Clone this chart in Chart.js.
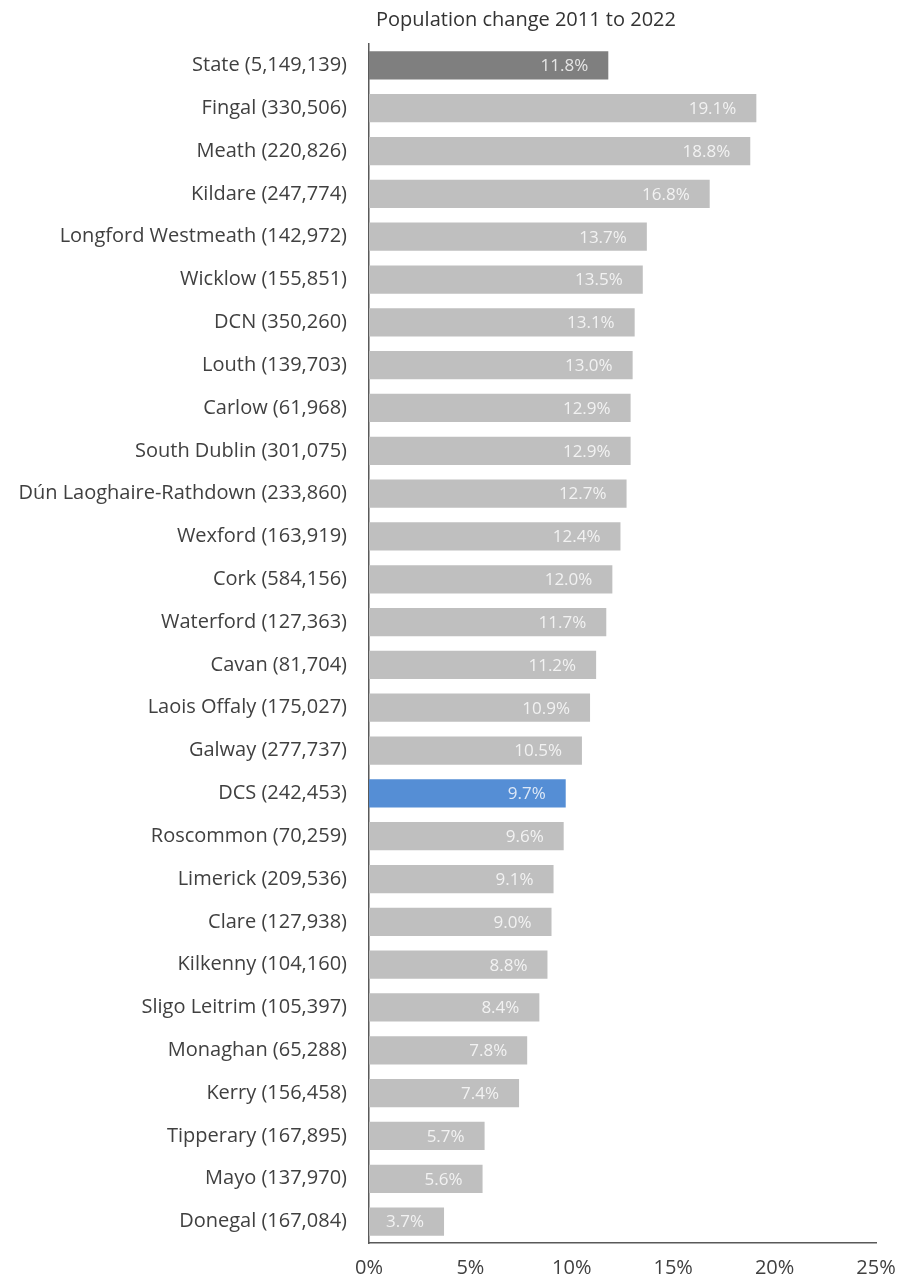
<!DOCTYPE html>
<html>
<head>
<meta charset="utf-8">
<script src="https://cdn.jsdelivr.net/npm/chart.js@4"></script>
<style>
  html, body { margin: 0; padding: 0; background: #fff; }
  #wrap { width: 899px; height: 1283px; position: relative; }
</style>
</head>
<body>
<div id="wrap"><canvas id="popChart"></canvas></div>
<script>
// areas with 2022 population, and % change 2011 to 2022
const areas = [
  "State (5,149,139)", "Fingal (330,506)", "Meath (220,826)", "Kildare (247,774)",
  "Longford Westmeath (142,972)", "Wicklow (155,851)", "DCN (350,260)", "Louth (139,703)",
  "Carlow (61,968)", "South Dublin (301,075)", "Dún Laoghaire-Rathdown (233,860)",
  "Wexford (163,919)", "Cork (584,156)", "Waterford (127,363)", "Cavan (81,704)",
  "Laois Offaly (175,027)", "Galway (277,737)", "DCS (242,453)", "Roscommon (70,259)",
  "Limerick (209,536)", "Clare (127,938)", "Kilkenny (104,160)", "Sligo Leitrim (105,397)",
  "Monaghan (65,288)", "Kerry (156,458)", "Tipperary (167,895)", "Mayo (137,970)",
  "Donegal (167,084)"
];
const change = [
  11.8, 19.1, 18.8, 16.8, 13.7, 13.5, 13.1, 13.0, 12.9, 12.9, 12.7, 12.4, 12.0, 11.7,
  11.2, 10.9, 10.5, 9.7, 9.6, 9.1, 9.0, 8.8, 8.4, 7.8, 7.4, 5.7, 5.6, 3.7
];
const xTicks = [0, 5, 10, 15, 20, 25];

const fontFam = "'Open Sans', 'Noto Sans', sans-serif";

// bar colour: state dark grey, DCS blue, rest light grey
function barColour(name) {
  if (name.startsWith("State")) return "#7f7f7f";
  if (name.startsWith("DCS")) return "#558ed5";
  return "#bfbfbf";
}

// value labels just inside the bar end
const valueLabels = {
  id: "valueLabels",
  afterDatasetsDraw(chart) {
    const ctx = chart.ctx;
    const meta = chart.getDatasetMeta(0);
    ctx.save();
    ctx.font = "17px " + fontFam;
    ctx.fillStyle = "rgba(255,255,255,0.8)";
    ctx.textAlign = "right";
    ctx.textBaseline = "middle";
    meta.data.forEach(function (bar, i) {
      ctx.fillText(change[i].toFixed(1) + "%", bar.x - 20, bar.y + 1);
    });
    ctx.restore();
  }
};

// title sits above the plot, a bit left of its centre
const topTitle = {
  id: "topTitle",
  afterDraw(chart) {
    const ctx = chart.ctx;
    ctx.save();
    ctx.font = "20px " + fontFam;
    ctx.fillStyle = "#333333";
    ctx.textAlign = "center";
    ctx.textBaseline = "middle";
    ctx.fillText("Population change 2011 to 2022", 526, 20);
    ctx.restore();
  }
};

const ctx = document.getElementById("popChart").getContext("2d");
const popChart = new Chart(ctx, {
  type: "bar",
  data: {
    labels: areas,
    datasets: [{
      data: change,
      backgroundColor: areas.map(barColour),
      barPercentage: 0.66,
      categoryPercentage: 1.0
    }]
  },
  options: {
    indexAxis: "y",
    responsive: true,
    maintainAspectRatio: false,
    animation: false,
    layout: { padding: { top: 44, right: 23, left: 0, bottom: 0 } },
    plugins: {
      legend: { display: false },
      tooltip: { enabled: false }
    },
    scales: {
      x: {
        min: 0,
        max: 25,
        afterBuildTicks(scale) {
          scale.ticks = xTicks.map(v => ({ value: v }));
        },
        afterFit(scale) {
          scale.height = 40;
          scale.paddingRight = 0;
        },
        grid: { display: false, drawTicks: false },
        border: { display: true, color: "#595959", width: 1.5 },
        ticks: {
          padding: 13,
          color: "#404040",
          maxRotation: 0,
          font: { family: fontFam, size: 20 },
          callback: v => v + "%"
        }
      },
      y: {
        afterFit(scale) { scale.width = 369; },
        grid: { display: false, drawTicks: false },
        border: { display: true, color: "#595959", width: 1.5 },
        ticks: {
          padding: 22,
          color: "#404040",
          autoSkip: false,
          font: { family: fontFam, size: 20 }
        }
      }
    }
  },
  plugins: [valueLabels, topTitle]
});
</script>
</body>
</html>
